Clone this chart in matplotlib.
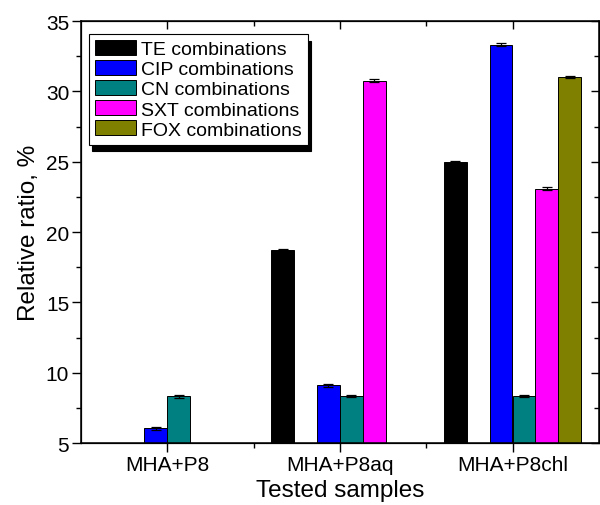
import numpy as np
import matplotlib
matplotlib.use("Agg")
import matplotlib.pyplot as plt

plt.rcParams['font.family'] = ['Liberation Sans', 'DejaVu Sans']

samples = ['MHA+P8', 'MHA+P8aq', 'MHA+P8chl']
series = ['TE combinations', 'CIP combinations', 'CN combinations',
          'SXT combinations', 'FOX combinations']
colors = ['#000000', '#0000ff', '#008080', '#ff00ff', '#808000']

te = [0.0, 18.75, 25.0]
cip = [6.06, 9.09, 33.33]
cn = [8.33, 8.33, 8.33]
sxt = [0.0, 30.77, 23.08]
fox = [0.0, 0.0, 31.03]

te_err = [0.0, 0.05, 0.08]
cip_err = [0.1, 0.08, 0.08]
cn_err = [0.1, 0.08, 0.08]
sxt_err = [0.0, 0.12, 0.1]
fox_err = [0.0, 0.0, 0.08]

values = [te, cip, cn, sxt, fox]
errors = [te_err, cip_err, cn_err, sxt_err, fox_err]

# slot -1.5 stays empty in every group
slots = [-2.5, -0.5, 0.5, 1.5, 2.5]
w = 0.133

fig = plt.figure(figsize=(6.0, 5.06), dpi=100)
ax = fig.add_axes([0.135, 0.1225, 0.863, 0.834])

x = np.arange(1, len(samples) + 1)
for vals, errs, col, lab, s in zip(values, errors, colors, series, slots):
    ax.bar(x + s * w, vals, w, color=col, edgecolor='black', linewidth=0.7,
           label=lab, zorder=2)
    ax.errorbar(x + s * w, vals, yerr=errs, fmt='none', ecolor='black',
                elinewidth=0.9, capsize=3.5, capthick=0.9, zorder=3)

ax.set_xlim(0.5, 3.5)
ax.set_ylim(5, 35)
ax.set_xticks(x)
ax.set_xticklabels(samples)
ax.set_xticks([1.5, 2.5], minor=True)
ax.set_yticks(np.arange(5, 36, 5))
ax.set_yticks(np.arange(7.5, 35, 5), minor=True)

ax.tick_params(axis='both', which='major', direction='out', length=6.5,
               width=1.0, labelsize=15, pad=2)
ax.tick_params(axis='both', which='minor', direction='out', length=3.5,
               width=1.0)
for sp in ax.spines.values():
    sp.set_linewidth(1.1)

# top and right ticks point inward
top = ax.twiny()
top.set_xlim(ax.get_xlim())
top.set_xticks(x)
top.set_xticks([1.5, 2.5], minor=True)
top.tick_params(which='major', direction='in', length=6, width=1.0, labeltop=False)
top.tick_params(which='minor', direction='in', length=3.5, width=1.0)
right = ax.twinx()
right.set_ylim(ax.get_ylim())
right.set_yticks(np.arange(5, 36, 5))
right.set_yticks(np.arange(7.5, 35, 5), minor=True)
right.tick_params(which='major', direction='in', length=6, width=1.0, labelright=False)
right.tick_params(which='minor', direction='in', length=3.5, width=1.0)

ax.set_xlabel('Tested samples', fontsize=17.5, labelpad=4)
ax.set_ylabel('Relative ratio, %', fontsize=17.5, labelpad=4)

leg = ax.legend(loc='upper left', bbox_to_anchor=(0.0154, 0.969),
                borderaxespad=0, fontsize=14, fancybox=False,
                edgecolor='black', framealpha=1, handlelength=2.1,
                handleheight=0.8, handletextpad=0.3, labelspacing=0.1,
                borderpad=0.3,
                shadow={'ox': 2.2, 'oy': -5, 'facecolor': 'black',
                        'edgecolor': 'black', 'alpha': 1})
leg.get_frame().set_linewidth(0.8)
leg.set_zorder(5)

fig.savefig('out.png', dpi=100)
